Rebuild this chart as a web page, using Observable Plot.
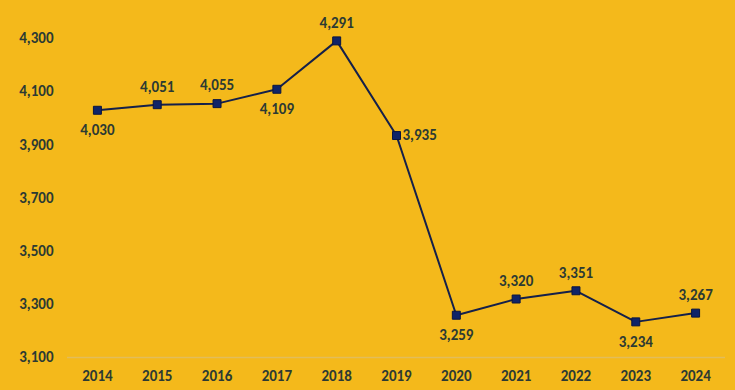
<!DOCTYPE html>
<html>
<head>
<meta charset="utf-8">
<script src="https://cdn.jsdelivr.net/npm/d3@7"></script>
<script src="https://cdn.jsdelivr.net/npm/@observablehq/plot@0.6"></script>
<style>
  html, body { margin: 0; padding: 0; background: #F4B91B; }
  #chart svg { display: block; }
</style>
</head>
<body>
<div id="chart"></div>
<script>
const years = [2014, 2015, 2016, 2017, 2018, 2019, 2020, 2021, 2022, 2023, 2024];
const values = [4030, 4051, 4055, 4109, 4291, 3935, 3259, 3320, 3351, 3234, 3267];
const labelPos = ["below", "above", "above", "below", "above", "right", "below", "above", "above", "below", "above"];
const yTicks = [3100, 3300, 3500, 3700, 3900, 4100, 4300];

const data = years.map((y, i) => ({year: String(y), value: values[i], pos: labelPos[i]}));
const fmt = d3.format(",");
const textColor = "#2c3a33";
const font = "Carlito, 'Liberation Sans Narrow', 'Liberation Sans', Arial, sans-serif";
const fs = 15;

const chart = Plot.plot({
  width: 735,
  height: 390,
  marginLeft: 67,
  marginRight: 10,
  marginTop: 38,
  marginBottom: 33,
  style: {background: "#F4B91B", fontFamily: font, fontSize: fs + "px", fontWeight: "bold", color: textColor},
  x: {type: "point", domain: years.map(String), padding: 0.5, round: false},
  y: {domain: [3100, 4300]},
  marks: [
    Plot.ruleY([3100], {stroke: "#e2bd5a", strokeWidth: 1.5}),
    Plot.axisY({ticks: yTicks, tickSize: 0, tickPadding: 14, tickFormat: fmt, label: null, fill: textColor, fontSize: fs, fontWeight: "bold"}),
    Plot.axisX({tickSize: 0, tickPadding: 13, label: null, fill: textColor, fontSize: fs, fontWeight: "bold"}),
    Plot.line(data, {x: "year", y: "value", stroke: "#15204a", strokeWidth: 2}),
    Plot.dot(data, {x: "year", y: "value", symbol: "square", r: 4.5, fill: "#0f2468", stroke: "#0a1540", strokeWidth: 1}),
    Plot.text(data.filter(d => d.pos === "above"), {x: "year", y: "value", text: d => fmt(d.value), dy: -18, fill: textColor, fontSize: fs, fontWeight: "bold"}),
    Plot.text(data.filter(d => d.pos === "below"), {x: "year", y: "value", text: d => fmt(d.value), dy: 20, fill: textColor, fontSize: fs, fontWeight: "bold"}),
    Plot.text(data.filter(d => d.pos === "right"), {x: "year", y: "value", text: d => fmt(d.value), dx: 6, textAnchor: "start", fill: textColor, fontSize: fs, fontWeight: "bold"})
  ]
});
document.getElementById("chart").appendChild(chart);
</script>
</body>
</html>
